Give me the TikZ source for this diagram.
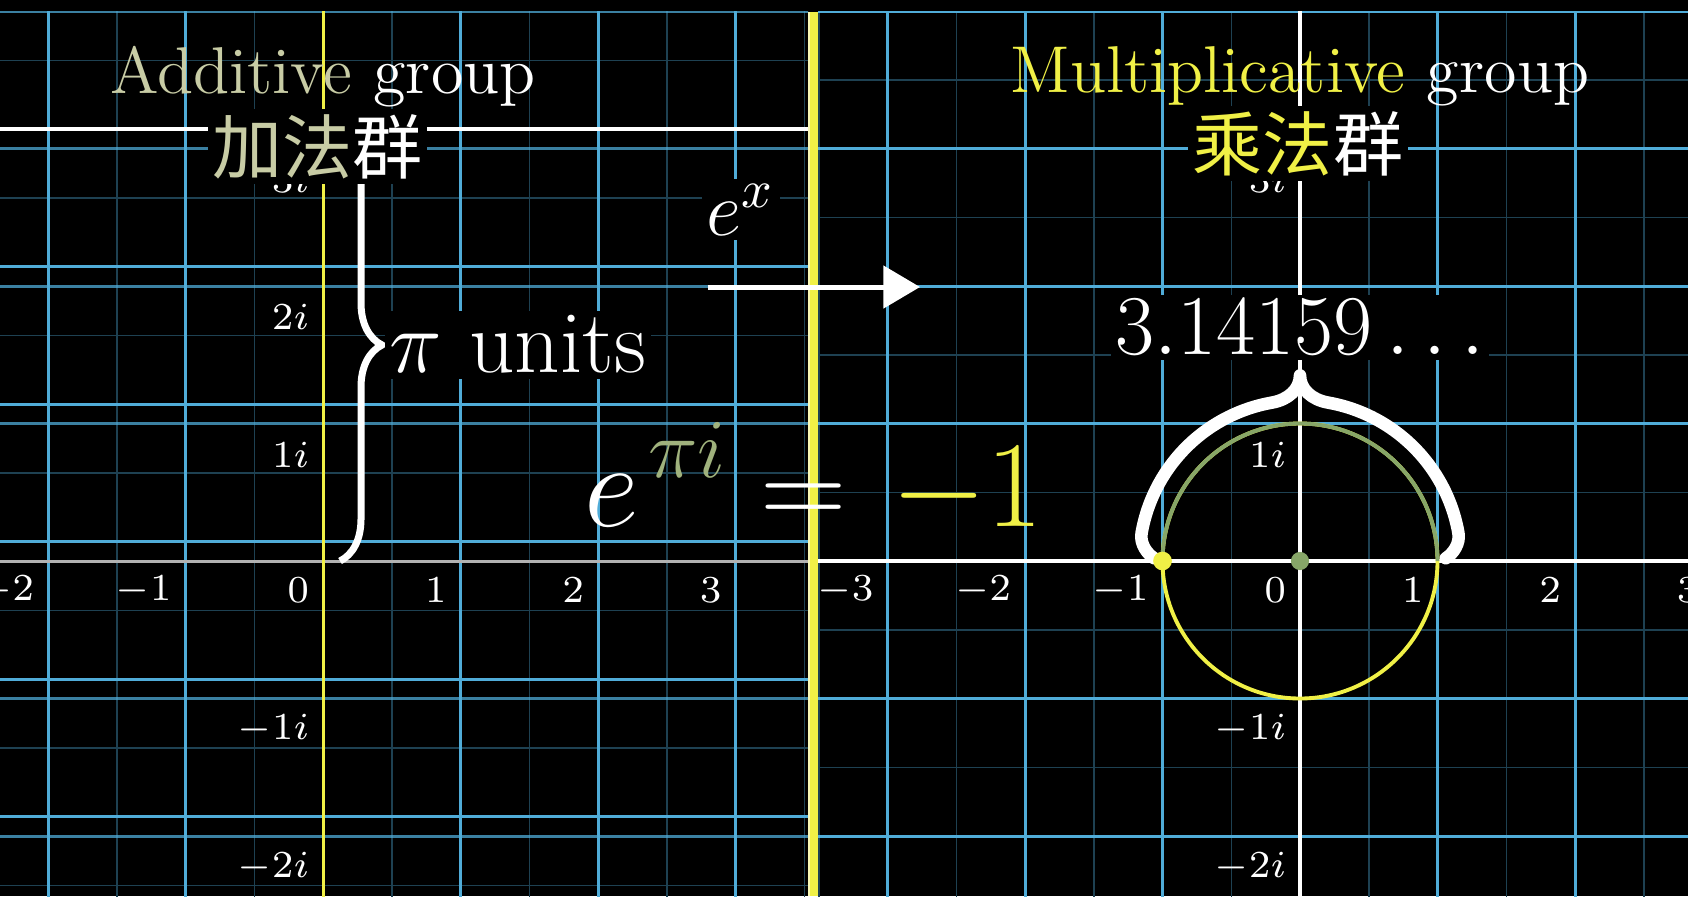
\RequirePackage{fix-cm}
\documentclass[tikz,border=0pt]{standalone}
\usepackage{amsmath,amssymb}
\usepackage{fontspec}
\newfontfamily\cjk{Noto Sans CJK SC}
\usetikzlibrary{arrows.meta,decorations.pathreplacing}

\definecolor{gridblue}{RGB}{80,172,216}
\definecolor{addcol}{RGB}{200,204,165}
\definecolor{picol}{RGB}{160,178,125}
\definecolor{mulcol}{RGB}{240,240,70}
\definecolor{circgreen}{RGB}{135,166,104}

\tikzset{
  gridmajor/.style={gridblue, line width=0.62pt},
  gridminor/.style={gridblue!38!black, line width=0.31pt},
  ticklabel/.style={anchor=east, inner sep=0pt, text=white, font=\fontsize{7.9}{8}\selectfont},
  masked/.style={fill=black, inner sep=1pt, text=white},
  curlybrace/.style={white, line width=2.6pt, line cap=round, line join=round},
  bigmath/.style={anchor=base west, inner sep=0pt, text=white, font=\fontsize{24.8}{25}\selectfont},
}

\begin{document}
\begin{tikzpicture}
\fill[black] (0,0) rectangle (12.2764,6.5164);
\useasboundingbox (0,0) rectangle (12.2764,6.5164);

% additive plane, grid shifted up by pi
\begin{scope}[shift={(2.3491,2.4364)}]
  \clip (-2.3491,-2.4364) rectangle (3.5273,4.0);
  \foreach \x in {-1.5,-0.5,...,3.5} \draw[gridminor] (\x,-2.5) -- (\x,4.1);
  \foreach \y in {-5.5,-4.5,...,0.5} \draw[gridminor] (-2.4,{pi+\y}) -- (3.6,{pi+\y});
  \foreach \y in {-2,-1,1,2,3,4} \draw[gridmajor, draw opacity=0.75] (-2.4,\y) -- (3.6,\y);
  \foreach \y in {-5,...,-1} \draw[gridmajor] (-2.4,{pi+\y}) -- (3.6,{pi+\y});
  \foreach \x in {-2,-1,1,2,3} \draw[gridmajor] (\x,-2.5) -- (\x,4.1);
  \draw[gray!60, line width=0.62pt] (-2.4,0) -- (3.6,0);
  \draw[white, line width=0.8pt] (-2.4,pi) -- (3.6,pi);
  \draw[mulcol, line width=0.62pt] (0,-2.5) -- (0,4.1);
  \foreach \x in {-2,...,3} \node[ticklabel] (addx\x) at (\x-0.0945,-0.211) {$\x$};
  \foreach \y in {-2,-1,1,2,3} \node[ticklabel] (addy\y) at (-0.0945,\y-0.225) {$\y i$};
\end{scope}

% multiplicative plane
\begin{scope}[shift={(9.4545,2.4364)}]
  \clip (-3.5054,-2.4364) rectangle (2.8219,4.0);
  \foreach \x in {-3.5,-2.5,...,2.5} \draw[gridminor] (\x,-2.5) -- (\x,4.1);
  \foreach \y in {-2.5,-1.5,...,3.5} \draw[gridminor] (-3.6,\y) -- (2.9,\y);
  \foreach \x in {-3,-2,-1,1,2} \draw[gridmajor] (\x,-2.5) -- (\x,4.1);
  \foreach \y in {-2,-1,1,2,3,4} \draw[gridmajor] (-3.6,\y) -- (2.9,\y);
  \draw[white, line width=0.7pt] (-3.6,0) -- (2.9,0) (0,-2.5) -- (0,4.1);
  \foreach \x in {-3,...,3} \node[ticklabel] (mulx\x) at (\x-0.0945,-0.211) {$\x$};
  \foreach \y in {-2,-1,1,2,3} \node[ticklabel] (muly\y) at (-0.0945,\y-0.225) {$\y i$};
  \draw[mulcol, line width=0.8pt] (0,0) circle (1);
  \draw[circgreen, line width=0.8pt] (1,0) arc (0:180:1);
  % brace over the upper half circle
  \draw[curlybrace] (-1.06,0.02) .. controls (-1.11,0.05) and (-1.166,0.124) .. (170:1.17)
    arc[start angle=170, end angle=100, radius=1.17]
    .. controls +(10:0.12) and +(-90:0.1) .. (0,1.35)
    .. controls +(-90:0.1) and +(170:0.12) .. (80:1.17)
    arc[start angle=80, end angle=10, radius=1.17]
    .. controls (1.166,0.124) and (1.11,0.05) .. (1.06,0.02);
  \fill[mulcol] (-1,0) circle (0.068);
  \fill[circgreen] (0,0) circle (0.066);
\end{scope}

% divider
\fill[mulcol] (5.8764,0) rectangle (5.9491,6.4291);
\fill[mulcol!40!white] (5.8764,0) rectangle (5.8910,6.4291);

% titles
\node[font=\fontsize{13.7}{14}\selectfont, anchor=base, inner sep=0pt, text=white] (addtitle) at (2.3491,5.840) {\textcolor{addcol}{Additive} group};
\draw[white, line width=1.45pt, decorate, decoration={brace, amplitude=0.305cm}] (2.473,5.578) -- (2.473,2.4364);
\node[masked, font=\fontsize{14.5}{15}\selectfont\cjk] (addcn) at (2.309,5.451) {\textcolor{addcol}{加法}群};
\node[font=\fontsize{13.7}{14}\selectfont, anchor=base, inner sep=0pt, text=white] (multitle) at (9.4545,5.847) {\textcolor{mulcol}{Multiplicative} group};
\node[masked, font=\fontsize{14.5}{15}\selectfont\cjk] (mulcn) at (9.44,5.473) {\textcolor{mulcol}{乘法}群};

% the map
\node[masked, font=\fontsize{15.9}{16}\selectfont, anchor=base] (expx) at (5.389,4.807) {$e^x$};
\coordinate (maptail) at (5.149,4.429);
\coordinate (maphead) at (6.691,4.429);
\draw[white, line width=1.03pt, -{Triangle[length=7.6pt, width=8.7pt]}] (maptail) -- (maphead);

\node[masked, font=\fontsize{18.4}{19}\selectfont, anchor=base west] (piunits) at (2.794,3.804) {$\pi$ units};
\node[bigmath] (euler) at (4.243,2.684) {$\displaystyle e^{\mkern2mu\textcolor{picol}{\pi i}}$};
\node[bigmath] (equals) at (5.527,2.684) {$=$};
\node[bigmath, text=mulcol, font=\fontsize{25.4}{26}\selectfont] (minusone) at (6.473,2.684) {$-1$};
\node[masked, font=\fontsize{17.6}{18}\selectfont, anchor=base] (piapprox) at (9.4545,3.935) {$3.14159\ldots$};
\end{tikzpicture}
\end{document}
